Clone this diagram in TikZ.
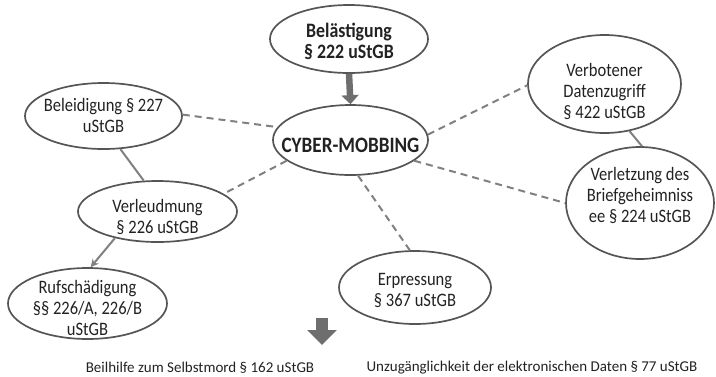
\documentclass[tikz,border=0pt]{standalone}
\usepackage{fontspec}
\setmainfont{Carlito}
\newfontfamily\cfont[FakeStretch=0.87]{Carlito}
\usetikzlibrary{shapes.geometric,arrows.meta}
\definecolor{edge}{HTML}{555555}
\definecolor{conn}{HTML}{808080}
\definecolor{arr}{HTML}{6E6E6E}
\definecolor{txt}{HTML}{222222}
\begin{document}
\begin{tikzpicture}[x=1pt,y=-1pt,
  bubble/.style={ellipse,draw=edge,line width=1.7pt,inner sep=0pt},
  btext/.style={align=center,inner sep=0pt,text=txt,font=\cfont\fontsize{19}{21}\selectfont},
  boldtext/.style={btext,font=\cfont\bfseries\fontsize{#1}{21}\selectfont},
  dashconn/.style={draw=conn,line width=2pt,dash pattern=on 7pt off 5pt},
  solidconn/.style={draw=conn,line width=2pt},
  plain/.style={text=txt,font=\fontsize{15}{18}\selectfont,inner sep=0pt}]
\useasboundingbox (0,0) rectangle (716,376);
% ellipses
\node[bubble,minimum width=158pt,minimum height=68pt] (bel) at (349,39) {};
\node[bubble,minimum width=155pt,minimum height=70pt] (cyber) at (350.5,140) {};
\node[bubble,minimum width=157pt,minimum height=66pt] (beleid) at (103.5,116) {};
\node[bubble,minimum width=159pt,minimum height=61pt] (verleum) at (157.5,211.5) {};
\node[bubble,minimum width=159pt,minimum height=71pt] (ruf) at (87.5,303.5) {};
\node[bubble,minimum width=152pt,minimum height=73pt] (erp) at (415,287.5) {};
\node[bubble,minimum width=153pt,minimum height=98pt] (verb) at (604.5,84) {};
\node[bubble,minimum width=148pt,minimum height=112pt] (brief) at (640,203) {};
% texts
\node[boldtext=20.5] (belT) at (349,41) {Belästigung\\§ 222 uStGB};
\node[boldtext=22] (cyberT) at (350.5,145) {CYBER-MOBBING};
\node[btext] (beleidT) at (103.5,115) {Beleidigung § 227\\uStGB};
\node[btext] (verleumT) at (157.5,217) {Verleudmung\\§ 226 uStGB};
\node[btext] (rufT) at (87.5,308) {Rufschädigung\\§§ 226/A, 226/B\\uStGB};
\node[btext] (erpT) at (415,290) {Erpressung\\§ 367 uStGB};
\node[btext] (verbT) at (604.5,91) {Verbotener\\Datenzugriff\\§ 422 uStGB};
\node[btext] (briefT) at (640,195) {Verletzung des\\Briefgeheimniss\\ee § 224 uStGB};
\node[plain] (beihilfe) at (200,368) {Beilhilfe zum Selbstmord § 162 uStGB};
\node[plain] (unzug) at (532,368) {Unzugänglichkeit der elektronischen Daten § 77 uStGB};
% connectors
\draw[line width=6.5pt,-{Triangle[length=9pt,width=17pt]},draw=arr,fill=arr] (bel.south) -- (cyber.north);
\draw[dashconn] (beleid.1) -- (cyber.170);
\draw[solidconn] (beleid.-63) -- (verleum.114);
\draw[dashconn] (cyber.198) -- (verleum.15);
\draw[solidconn,-{Stealth[length=8pt,width=8pt]}] (verleum.212) -- (ruf.85);
\draw[dashconn] (cyber.4) -- (verb.181);
\draw[dashconn] (cyber.-18) -- (brief.180);
\draw[dashconn] (cyber.-78) -- (erp.98);
\draw[solidconn] (verb.-62) -- (brief.88);
% free block arrow
\coordinate (ba) at (322,318);
\coordinate (bb) at (322,345);
\draw[draw=arr,line width=12pt,-{Triangle[length=15pt,width=29pt]},fill=arr] (ba) -- (bb);
\end{tikzpicture}
\end{document}
